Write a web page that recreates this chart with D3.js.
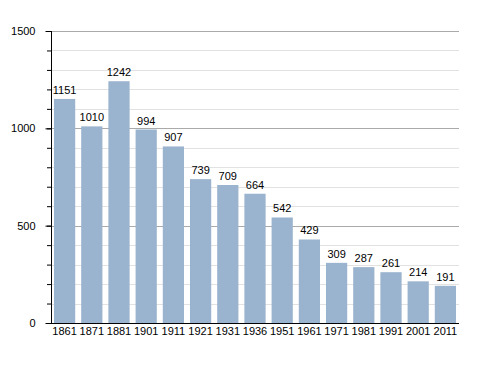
<!DOCTYPE html>
<html>
<head>
<meta charset="utf-8">
<script src="https://cdn.jsdelivr.net/npm/d3@7"></script>
<style>
  body { margin: 0; background: #fff; }
  text { font-family: "Liberation Sans", Arial, sans-serif; font-size: 11px; fill: #000; }
</style>
</head>
<body>
<div id="chart"></div>
<script>
let years = ["1861", "1871", "1881", "1901", "1911", "1921", "1931", "1936", "1951", "1961", "1971", "1981", "1991", "2001", "2011"];
let population = [1151, 1010, 1242, 994, 907, 739, 709, 664, 542, 429, 309, 287, 261, 214, 191];
let majorTicks = [0, 500, 1000, 1500];

let width = 488, height = 373;
let margin = { top: 31, right: 29, bottom: 50, left: 51 };

let svg = d3.select("#chart")
    .append("svg")
    .attr("width", width)
    .attr("height", height);

let x = d3.scaleBand()
    .domain(years)
    .range([margin.left, width - margin.right])
    .paddingInner(0.22)
    .paddingOuter(0.11);

let y = d3.scaleLinear()
    .domain([0, 1500])
    .range([height - margin.bottom, margin.top]);

// grid lines, light every 100 and darker every 500
let minor = d3.range(100, 1500, 100).filter(d => d % 500 != 0);
svg.append("g")
    .selectAll("line")
    .data(minor)
    .enter().append("line")
    .attr("x1", margin.left)
    .attr("x2", width - margin.right)
    .attr("y1", d => Math.round(y(d)) + 0.5)
    .attr("y2", d => Math.round(y(d)) + 0.5)
    .attr("stroke", "#e2e2e2");

svg.append("g")
    .selectAll("line")
    .data(majorTicks.slice(1))
    .enter().append("line")
    .attr("x1", margin.left)
    .attr("x2", width - margin.right)
    .attr("y1", d => Math.round(y(d)) + 0.5)
    .attr("y2", d => Math.round(y(d)) + 0.5)
    .attr("stroke", "#aaaaaa");

// bars
svg.append("g")
    .selectAll("rect")
    .data(population)
    .enter().append("rect")
    .attr("x", (d, i) => x(years[i]))
    .attr("y", d => y(d))
    .attr("width", x.bandwidth())
    .attr("height", d => y(0) - y(d))
    .attr("fill", "#9ab3ce");

// value labels
svg.append("g")
    .selectAll("text")
    .data(population)
    .enter().append("text")
    .attr("x", (d, i) => x(years[i]) + x.bandwidth() / 2)
    .attr("y", d => y(d) - 5)
    .attr("text-anchor", "middle")
    .text(d => d);

// y axis with minor ticks
let yAxisMinor = d3.axisLeft(y)
    .tickValues(d3.range(0, 1501, 100))
    .tickSize(4)
    .tickFormat("");
svg.append("g")
    .attr("transform", "translate(" + margin.left + ",0)")
    .call(yAxisMinor)
    .call(g => g.select(".domain").remove());

let yAxis = d3.axisLeft(y)
    .tickValues(majorTicks)
    .tickFormat(d3.format("d"))
    .tickSize(6)
    .tickPadding(10);
svg.append("g")
    .attr("transform", "translate(" + (margin.left + 0.5) + ",0)")
    .call(yAxis)
    .call(g => g.selectAll("text").style("font-size", "11px").style("font-family", "Liberation Sans, Arial, sans-serif"))
    .call(g => g.select(".domain").attr("d", "M0," + y(1500) + "V" + y(0)));

// x axis
let xAxis = d3.axisBottom(x).tickSize(0).tickPadding(4);
svg.append("g")
    .attr("transform", "translate(0," + (y(0) + 0.5) + ")")
    .call(xAxis)
    .call(g => g.selectAll("text").style("font-size", "11px").style("font-family", "Liberation Sans, Arial, sans-serif"))
    .call(g => g.select(".domain").attr("d", "M" + margin.left + ",0H" + (width - margin.right)));
</script>
</body>
</html>
